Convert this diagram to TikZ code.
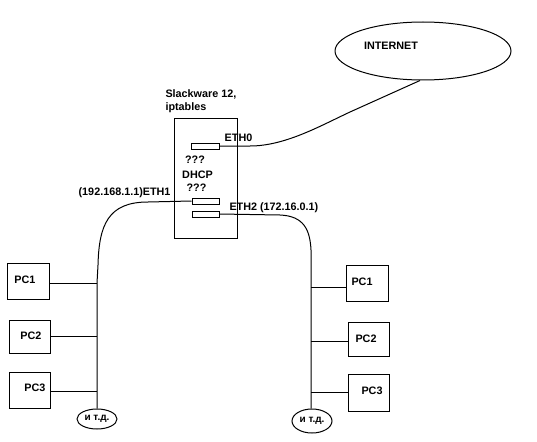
\documentclass[tikz,border=0pt]{standalone}
\usepackage{fontspec}
\setmainfont{Liberation Sans}
\usetikzlibrary{shapes.geometric}
\begin{document}
\begin{tikzpicture}[x=1pt,y=-1pt,line width=1pt,
  lbl/.style={inner sep=0pt,font=\fontsize{10.8}{13}\selectfont\bfseries},
  small/.style={inner sep=0pt,font=\fontsize{10}{12}\selectfont\bfseries},
  box/.style={draw,rectangle,inner sep=0pt},
  pcbox/.style={box},
  port/.style={box},
  oval/.style={draw,ellipse,inner sep=0pt}]
\useasboundingbox (0,0) rectangle (537,441);
% internet
\node[oval,minimum width=176pt,minimum height=58pt] (inet) at (423,51) {};
\node[lbl] (inettxt) at (391,46) {INTERNET};
% server
\node[box,minimum width=63pt,minimum height=120pt] (srv) at (205.5,178) {};
\node[lbl,align=left,anchor=west] (srvtxt) at (165,101.5) {Slackware 12,\\iptables};
\node[port,minimum width=28pt,minimum height=6pt] (eth0) at (205,146) {};
\node[port,minimum width=27pt,minimum height=6pt] (eth1) at (205.5,201) {};
\node[port,minimum width=27pt,minimum height=6pt] (eth2) at (205.5,214) {};
\node[lbl] (eth0txt) at (238.5,138) {ETH0};
\node[lbl] (q1) at (195,160) {???};
\node[lbl] (dhcp) at (197.5,175) {DHCP};
\node[lbl] (q2) at (196.5,188) {???};
\node[lbl,anchor=east] (eth1txt) at (171,193) {(192.168.1.1)ETH1};
\node[lbl,anchor=west] (eth2txt) at (229,208) {ETH2 (172.16.0.1)};
% left segment
\node[oval,minimum width=40pt,minimum height=20pt] (etcL) at (97,419) {};
\node[small] (etcLtxt) at (97,419) {и т.д.};
\node[pcbox,minimum width=42pt,minimum height=36pt] (lpc1) at (28,281) {};
\node[pcbox,minimum width=41pt,minimum height=33pt] (lpc2) at (29.5,336.5) {};
\node[pcbox,minimum width=41pt,minimum height=36pt] (lpc3) at (29.5,390) {};
\node[lbl] (lpc1txt) at (25,279.5) {PC1};
\node[lbl] (lpc2txt) at (31,336) {PC2};
\node[lbl] (lpc3txt) at (35,387.5) {PC3};
% right segment
\node[oval,minimum width=40pt,minimum height=24pt] (etcR) at (312,421) {};
\node[small] (etcRtxt) at (312,421) {и т.д.};
\node[pcbox,minimum width=42pt,minimum height=36pt] (rpc1) at (367,283) {};
\node[pcbox,minimum width=41pt,minimum height=34pt] (rpc2) at (368.5,339) {};
\node[pcbox,minimum width=41pt,minimum height=37pt] (rpc3) at (368.5,392.5) {};
\node[lbl] (rpc1txt) at (362,282) {PC1};
\node[lbl] (rpc2txt) at (366,339) {PC2};
\node[lbl] (rpc3txt) at (372,391) {PC3};
% cables
\draw (eth0.east) -- (250,146) .. controls (285,146) and (320,126) .. (350,112) -- ([xshift=-3pt]inet.south);
\coordinate (lbus) at (97,283);
\coordinate (rbus) at (311,250);
\draw (eth1.west) -- (148,202) .. controls (108,202) and (99,225) .. (98,265) -- (lbus) -- (lbus |- etcL.north);
\draw (eth2.east) -- (280,215) .. controls (304,216) and (310,230) .. (rbus) -- (rbus |- etcR.north);
\draw (lpc1.east |- lbus) -- (lbus);
\draw (lpc2.east) -- (lpc2.east -| lbus);
\draw ([yshift=-1pt]lpc3.east) -- ([yshift=-1pt]lpc3.east -| lbus);
\draw ([yshift=-4pt]rpc1.west) -- ([yshift=-4pt]rpc1.west -| rbus);
\draw ([yshift=-2pt]rpc2.west) -- ([yshift=-2pt]rpc2.west -| rbus);
\draw (rpc3.west) -- (rpc3.west -| rbus);
\end{tikzpicture}
\end{document}
